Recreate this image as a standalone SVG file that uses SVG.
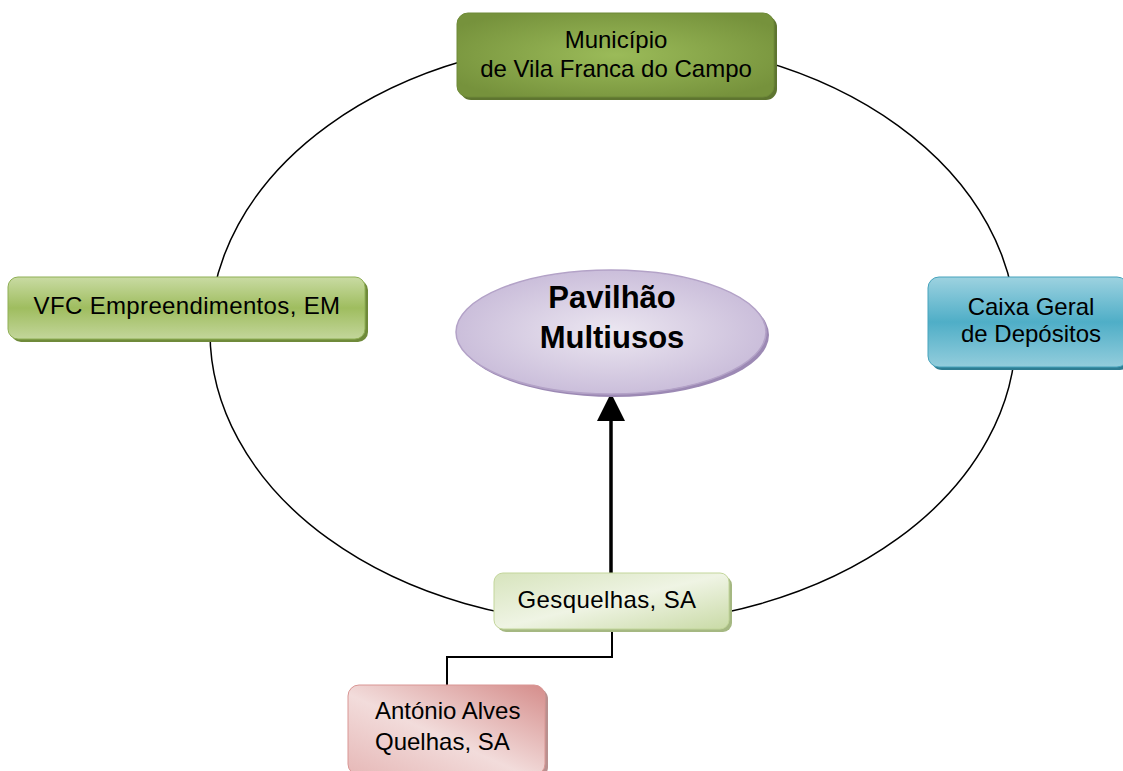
<svg xmlns="http://www.w3.org/2000/svg" width="1123" height="771" viewBox="0 0 1123 771">
<style>
text{font-family:"Liberation Sans",Arial,sans-serif;font-size:24px;fill:#000;}
.c{text-anchor:middle;}
.b{font-weight:bold;font-size:31px;}
.ln{fill:none;stroke:#000;}
</style>
<defs>
<radialGradient id="gMun" cx="0.5" cy="0.5" r="0.6">
<stop offset="0" stop-color="#9BBB59"/><stop offset="1" stop-color="#76923C"/>
</radialGradient>
<linearGradient id="gVfc" x1="0" y1="0" x2="0" y2="1">
<stop offset="0" stop-color="#C9DBA3"/><stop offset="0.5" stop-color="#9FBD5F"/><stop offset="1" stop-color="#C3D69B"/>
</linearGradient>
<linearGradient id="gCx" x1="0" y1="0" x2="0" y2="1">
<stop offset="0" stop-color="#9DD2E0"/><stop offset="0.5" stop-color="#4FAEC7"/><stop offset="1" stop-color="#93CDDC"/>
</linearGradient>
<linearGradient id="gGes" x1="0" y1="0" x2="1" y2="1">
<stop offset="0" stop-color="#D7E4BD"/><stop offset="0.5" stop-color="#EFF4E4"/><stop offset="1" stop-color="#C9DAA6"/>
</linearGradient>
<linearGradient id="gAnt" x1="1" y1="0" x2="0" y2="1">
<stop offset="0" stop-color="#D58D8B"/><stop offset="0.55" stop-color="#F2DCDB"/><stop offset="1" stop-color="#E6B8B7"/>
</linearGradient>
<radialGradient id="gPav" cx="0.5" cy="0.5" r="0.6">
<stop offset="0" stop-color="#ECE7F1"/><stop offset="1" stop-color="#C4B6D6"/>
</radialGradient>
</defs>

<g id="connectors">
<ellipse class="ln" cx="613" cy="332" rx="403" ry="292" stroke-width="1.5"/>
<line class="ln" x1="611" y1="573" x2="611" y2="420" stroke-width="3.5"/>
<path d="M611,393 L625,421 L597,421 Z" fill="#000"/>
<polyline class="ln" points="612,629 612,657 447,657 447,686" stroke-width="2"/>
</g>

<g id="municipio">
<rect x="460" y="16" width="317" height="84" rx="11" fill="#5E7530"/>
<rect x="457" y="13" width="317" height="84" rx="11" fill="url(#gMun)" stroke="#6E8A38" stroke-width="1"/>
<text class="c" x="616" y="48">Município</text>
<text class="c" x="616" y="77">de Vila Franca do Campo</text>
</g>

<g id="vfc">
<rect x="11" y="280" width="357" height="62" rx="10" fill="#6F8A3A"/>
<rect x="8" y="277" width="357" height="62" rx="10" fill="url(#gVfc)" stroke="#8FAF55" stroke-width="1"/>
<text class="c" x="187" y="314" letter-spacing="0.35">VFC Empreendimentos, EM</text>
</g>

<g id="caixa">
<rect x="931" y="280" width="200" height="90" rx="11" fill="#2E7E93"/>
<rect x="928" y="277" width="200" height="90" rx="11" fill="url(#gCx)" stroke="#47A3BC" stroke-width="1"/>
<text class="c" x="1031" y="315">Caixa Geral</text>
<text class="c" x="1031" y="342">de Depósitos</text>
</g>

<g id="pavilhao">
<ellipse cx="614" cy="335" rx="155" ry="62" fill="#9C89B4"/>
<ellipse cx="611" cy="332" rx="155" ry="62" fill="url(#gPav)" stroke="#B3A2C7" stroke-width="1.5"/>
<text class="c b" x="612" y="308">Pavilhão</text>
<text class="c b" x="612" y="348">Multiusos</text>
</g>

<g id="gesquelhas">
<rect x="497" y="576" width="235" height="56" rx="9" fill="#A5B882"/>
<rect x="494" y="573" width="235" height="56" rx="9" fill="url(#gGes)" stroke="#C3D69B" stroke-width="1"/>
<text class="c" x="607" y="608" letter-spacing="0.4">Gesquelhas, SA</text>
</g>

<g id="antonio">
<rect x="351" y="688" width="197" height="90" rx="11" fill="#B9908F"/>
<rect x="348" y="685" width="197" height="90" rx="11" fill="url(#gAnt)" stroke="#D99694" stroke-width="1"/>
<text x="375" y="719">António Alves</text>
<text x="375" y="750">Quelhas, SA</text>
</g>
</svg>
